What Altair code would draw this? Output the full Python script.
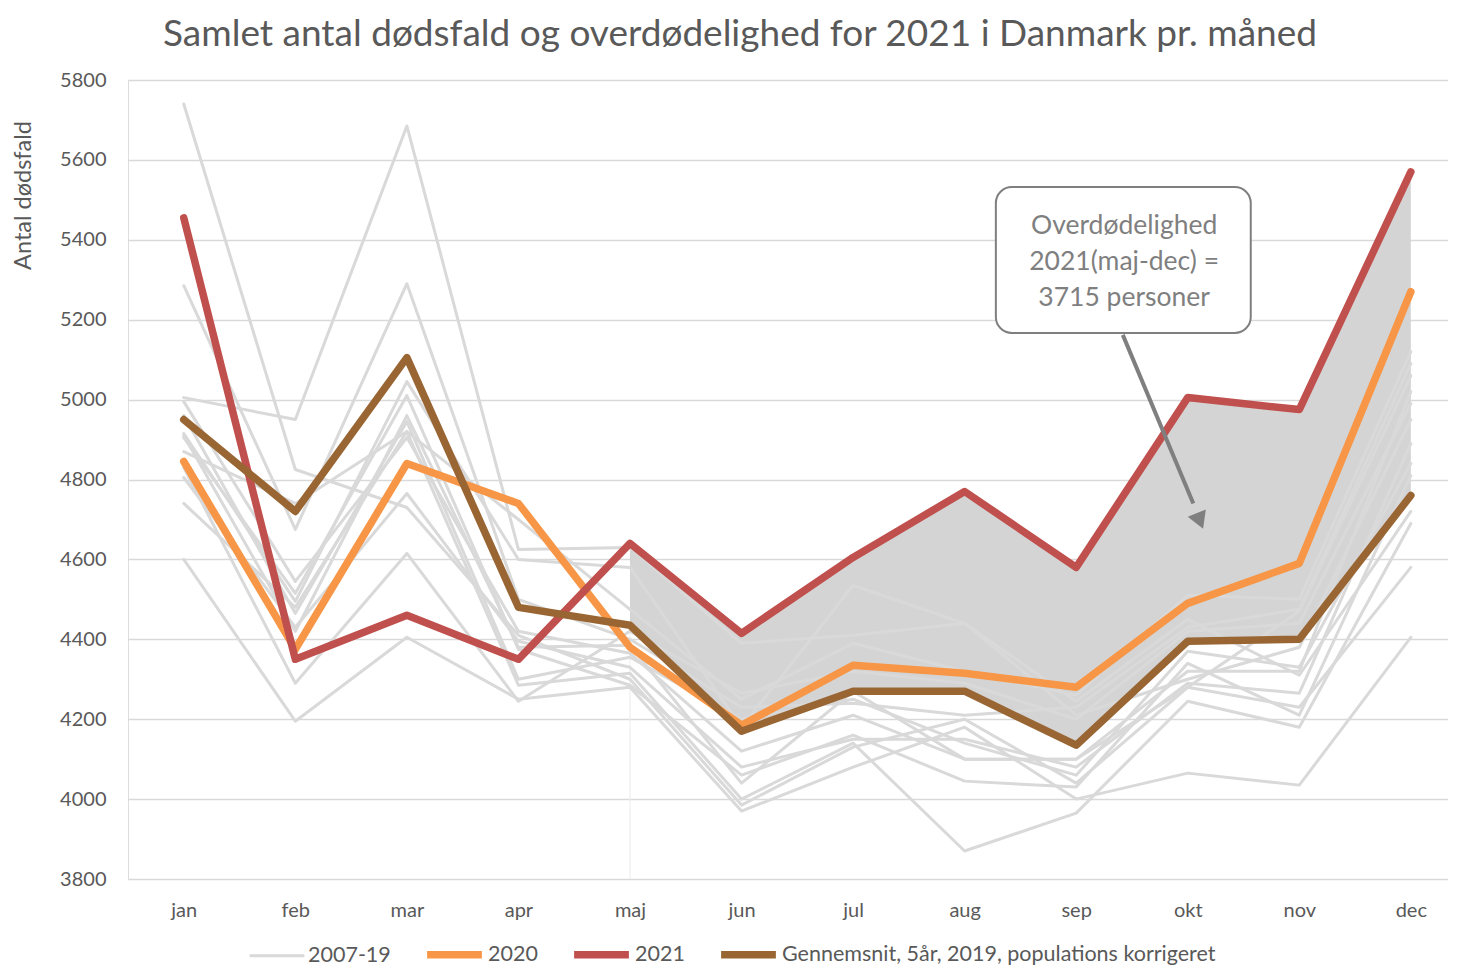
import json
import altair as alt
import pandas as pd

months = ["jan", "feb", "mar", "apr", "maj", "jun", "jul", "aug", "sep", "okt", "nov", "dec"]

y2007 = [4805, 4430, 4765, 4395, 4330, 4080, 4150, 4150, 4080, 4290, 4265, 4890]
y2008 = [4740, 4480, 4920, 4285, 4315, 4000, 4140, 3870, 3965, 4245, 4180, 4690]
y2009 = [4905, 4515, 5010, 4375, 4285, 4060, 4160, 4045, 4030, 4340, 4210, 4810]
y2010 = [4995, 4545, 4905, 4420, 4365, 4120, 4210, 4100, 4100, 4320, 4320, 5020]
y2011 = [4960, 4465, 4945, 4300, 4355, 4200, 4250, 4140, 4060, 4370, 4330, 4840]
y2012 = [5005, 4950, 5685, 4625, 4630, 4390, 4410, 4440, 4245, 4450, 4310, 4720]
y2013 = [5285, 4675, 5290, 4500, 4400, 4230, 4240, 4210, 4230, 4430, 4475, 5090]
y2014 = [4600, 4195, 4405, 4250, 4280, 3970, 4080, 4180, 4000, 4065, 4035, 4405]
y2015 = [5740, 4825, 4730, 4410, 4300, 3985, 4130, 4200, 4040, 4280, 4230, 4580]
y2016 = [4830, 4290, 4615, 4245, 4420, 4265, 4320, 4290, 4200, 4420, 4440, 4990]
y2017 = [4870, 4740, 4920, 4700, 4475, 4250, 4390, 4320, 4260, 4510, 4500, 5120]
y2018 = [4915, 4495, 5045, 4600, 4580, 4180, 4535, 4440, 4210, 4300, 4380, 4950]
y2019 = [4910, 4420, 4960, 4380, 4385, 4040, 4270, 4100, 4100, 4280, 4470, 5060]

v2020 = [4845, 4375, 4840, 4740, 4380, 4185, 4335, 4315, 4280, 4490, 4590, 5270]
v2021 = [5455, 4350, 4460, 4350, 4640, 4415, 4605, 4770, 4580, 5005, 4975, 5570]
v_avg = [4950, 4720, 5105, 4480, 4435, 4170, 4270, 4270, 4135, 4395, 4400, 4760]

series_names = ["2007-19", "2020", "2021", "Gennemsnit, 5år, 2019, populations korrigeret"]
series_colors = ["#d9d9d9", "#f79646", "#c0504d", "#996633"]
series_widths = [3, 7.5, 7.5, 7.5]

annot_lines = ["Overdødelighed", "2021(maj-dec) =", "3715 personer"]

gray_years = {
    2007: y2007, 2008: y2008, 2009: y2009, 2010: y2010, 2011: y2011, 2012: y2012,
    2013: y2013, 2014: y2014, 2015: y2015, 2016: y2016, 2017: y2017, 2018: y2018,
    2019: y2019,
}

FONT = "Lato"
TXT = "#595959"
XMAX = 0.5 + 1320 / 111.55

gray_df = pd.DataFrame([
    {"idx": i + 1, "value": v, "series": series_names[0], "year": str(yr)}
    for yr, vals in gray_years.items() for i, v in enumerate(vals)
])
def series_df(vals, name):
    return pd.DataFrame([{"idx": i + 1, "value": v, "series": name} for i, v in enumerate(vals)])

df2020 = series_df(v2020, series_names[1])
df2021 = series_df(v2021, series_names[2])
dfavg = series_df(v_avg, series_names[3])

area_df = pd.DataFrame([
    {"idx": i + 1, "value": v2021[i], "value2": v_avg[i]} for i in range(4, 12)
])
maj_df = pd.DataFrame([{"idx": 5, "value": 3800, "value2": v_avg[4]}])

label_expr = json.dumps(months) + "[datum.value - 1]"

x_scale = alt.Scale(domain=[0.5, XMAX], nice=False, zero=False)
y_scale = alt.Scale(domain=[3800, 5800], nice=False, zero=False)
x_axis = alt.Axis(values=list(range(1, 13)), labelExpr=label_expr, grid=False, ticks=False,
                  domain=False, title=None, labelFont=FONT, labelFontSize=20,
                  labelColor=TXT, labelPadding=21)
y_axis = alt.Axis(values=list(range(3800, 5801, 200)), format="d", grid=True, ticks=False,
                  domain=False, gridColor="#d9d9d9", gridWidth=1.6, labelFont=FONT,
                  labelFontSize=20, labelColor=TXT, labelPadding=22, title="Antal dødsfald",
                  titleFont=FONT, titleFontSize=23.5, titleColor=TXT, titleFontWeight="normal",
                  titleX=-105, titleY=115, titleAngle=270, titleAlign="center",
                  titleBaseline="middle")

def X(field="idx"):
    return alt.X(f"{field}:Q", scale=x_scale, axis=x_axis)

def Y(field="value"):
    return alt.Y(f"{field}:Q", scale=y_scale, axis=y_axis)

legend = alt.Legend(orient="none", legendX=120, legendY=843, direction="horizontal", title=None,
                    symbolType="stroke", symbolSize=3000, labelFont=FONT, labelFontSize=21.5,
                    labelColor=TXT, labelOffset=2, columnPadding=21, labelLimit=0)
color = alt.Color("series:N", scale=alt.Scale(domain=series_names, range=series_colors), legend=legend)
width_enc = alt.StrokeWidth("series:N",
                            scale=alt.Scale(type="ordinal", domain=series_names, range=series_widths),
                            legend=legend)

area = alt.Chart(area_df).mark_area(color="#d4d4d4", opacity=1).encode(
    x=X(), y=Y(), y2="value2:Q")
maj_rule = alt.Chart(maj_df).mark_rule(color="#ebebeb", strokeWidth=1).encode(
    x=X(), y=Y(), y2="value2:Q")

def line_layer(df, detail=False):
    enc = dict(x=X(), y=Y(), color=color, strokeWidth=width_enc)
    if detail:
        enc["detail"] = "year:N"
    return alt.Chart(df).mark_line(strokeCap="round", strokeJoin="round").encode(**enc)

gray = line_layer(gray_df, detail=True)
l2020 = line_layer(df2020)
l2021 = line_layer(df2021)
lavg = line_layer(dfavg)

box_df = pd.DataFrame([{"idx": 8.28, "idx2": 10.565, "value": 5167, "value2": 5532}])
box = alt.Chart(box_df).mark_rect(fill="white", stroke="#7f7f7f", strokeWidth=2,
                                  cornerRadius=16).encode(
    x=X(), x2="idx2:Q", y=Y(), y2="value2:Q")

text_df = pd.DataFrame([{"idx": 9.43, "value": v, "label": t}
                        for t, v in zip(annot_lines, [5435, 5344, 5254])])
text = alt.Chart(text_df).mark_text(font=FONT, fontSize=26.5, color="#7f7f7f",
                                    baseline="middle", align="center").encode(
    x=X(), y=Y(), text="label:N")

arrow_df = pd.DataFrame([{"idx": 9.418, "value": 5162, "idx2": 10.05, "value2": 4740}])
arrow = alt.Chart(arrow_df).mark_rule(color="#7f7f7f", strokeWidth=4).encode(
    x=X(), y=Y(), x2="idx2:Q", y2="value2:Q")
head_df = pd.DataFrame([{"idx": 10.1, "value": 4703}])
head = alt.Chart(head_df).mark_point(shape="triangle", angle=158, size=380, filled=True,
                                     color="#7f7f7f", opacity=1).encode(x=X(), y=Y())

chart = alt.layer(area, maj_rule, gray, l2020, l2021, lavg, box, text, arrow, head).properties(
    width=1320,
    height=799,
    title=alt.TitleParams("Samlet antal dødsfald og overdødelighed for 2021 i Danmark pr. måned",
                          font=FONT, fontSize=37, color=TXT, fontWeight="normal",
                          anchor="middle", frame="group", dx=-48, offset=16),
    autosize=alt.AutoSizeParams(type="none"),
    padding={"left": 120, "top": 72, "right": 0, "bottom": 88},
).configure_view(stroke=None).configure(background="white")

chart.save("out.html", embed_options={"renderer": "svg", "actions": False})
